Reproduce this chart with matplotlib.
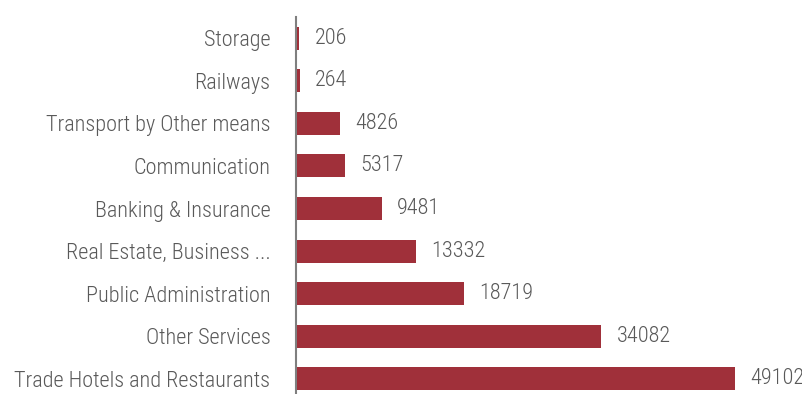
import matplotlib
matplotlib.use("Agg")
import matplotlib.pyplot as plt
from matplotlib import font_manager

categories = ["Storage", "Railways", "Transport by Other means", "Communication",
              "Banking & Insurance", "Real Estate, Business ...", "Public Administration",
              "Other Services", "Trade Hotels and Restaurants"]
values = [206, 264, 4826, 5317, 9481, 13332, 18719, 34082, 49102]

names = {f.name for f in font_manager.fontManager.ttflist}
family = "Roboto"
for cand in ["Roboto Condensed", "Liberation Sans Narrow", "Open Sans Condensed"]:
    if cand in names:
        family = cand
        break

plt.rcParams['font.family'] = [family, 'DejaVu Sans']

W, H = 803, 394
fig = plt.figure(figsize=(W / 100, H / 100), dpi=100)
left = 296 / W
top_px = 16.7
bot_px = 400.3
ax = fig.add_axes([left, (H - bot_px) / H, 1 - left, (bot_px - top_px) / H])

bar_color = "#A0303A"
text_color = "#595959"
y = list(range(len(categories)))
ax.barh(y, values, height=0.54, color=bar_color, left=0, zorder=3)
ax.set_ylim(len(categories) - 0.5, -0.5)
ax.set_xlim(-150, 56700)
ax.set_yticks(y)
ax.set_yticklabels(categories, fontsize=16, color=text_color, fontweight='light')
ax.tick_params(axis='y', length=0, pad=18.5)
ax.set_xticks([])
for s in ["top", "right", "bottom"]:
    ax.spines[s].set_visible(False)
ax.spines["left"].set_color("#7f7f7f")
ax.spines["left"].set_linewidth(1.5)
ax.spines["left"].set_zorder(2)

for yi, v in zip(y, values):
    ax.annotate(str(v), xy=(v, yi), xytext=(11, 0), textcoords="offset points",
                va="center", ha="left", fontsize=16, color=text_color,
                fontweight='light')

fig.savefig("out.png", dpi=100)
